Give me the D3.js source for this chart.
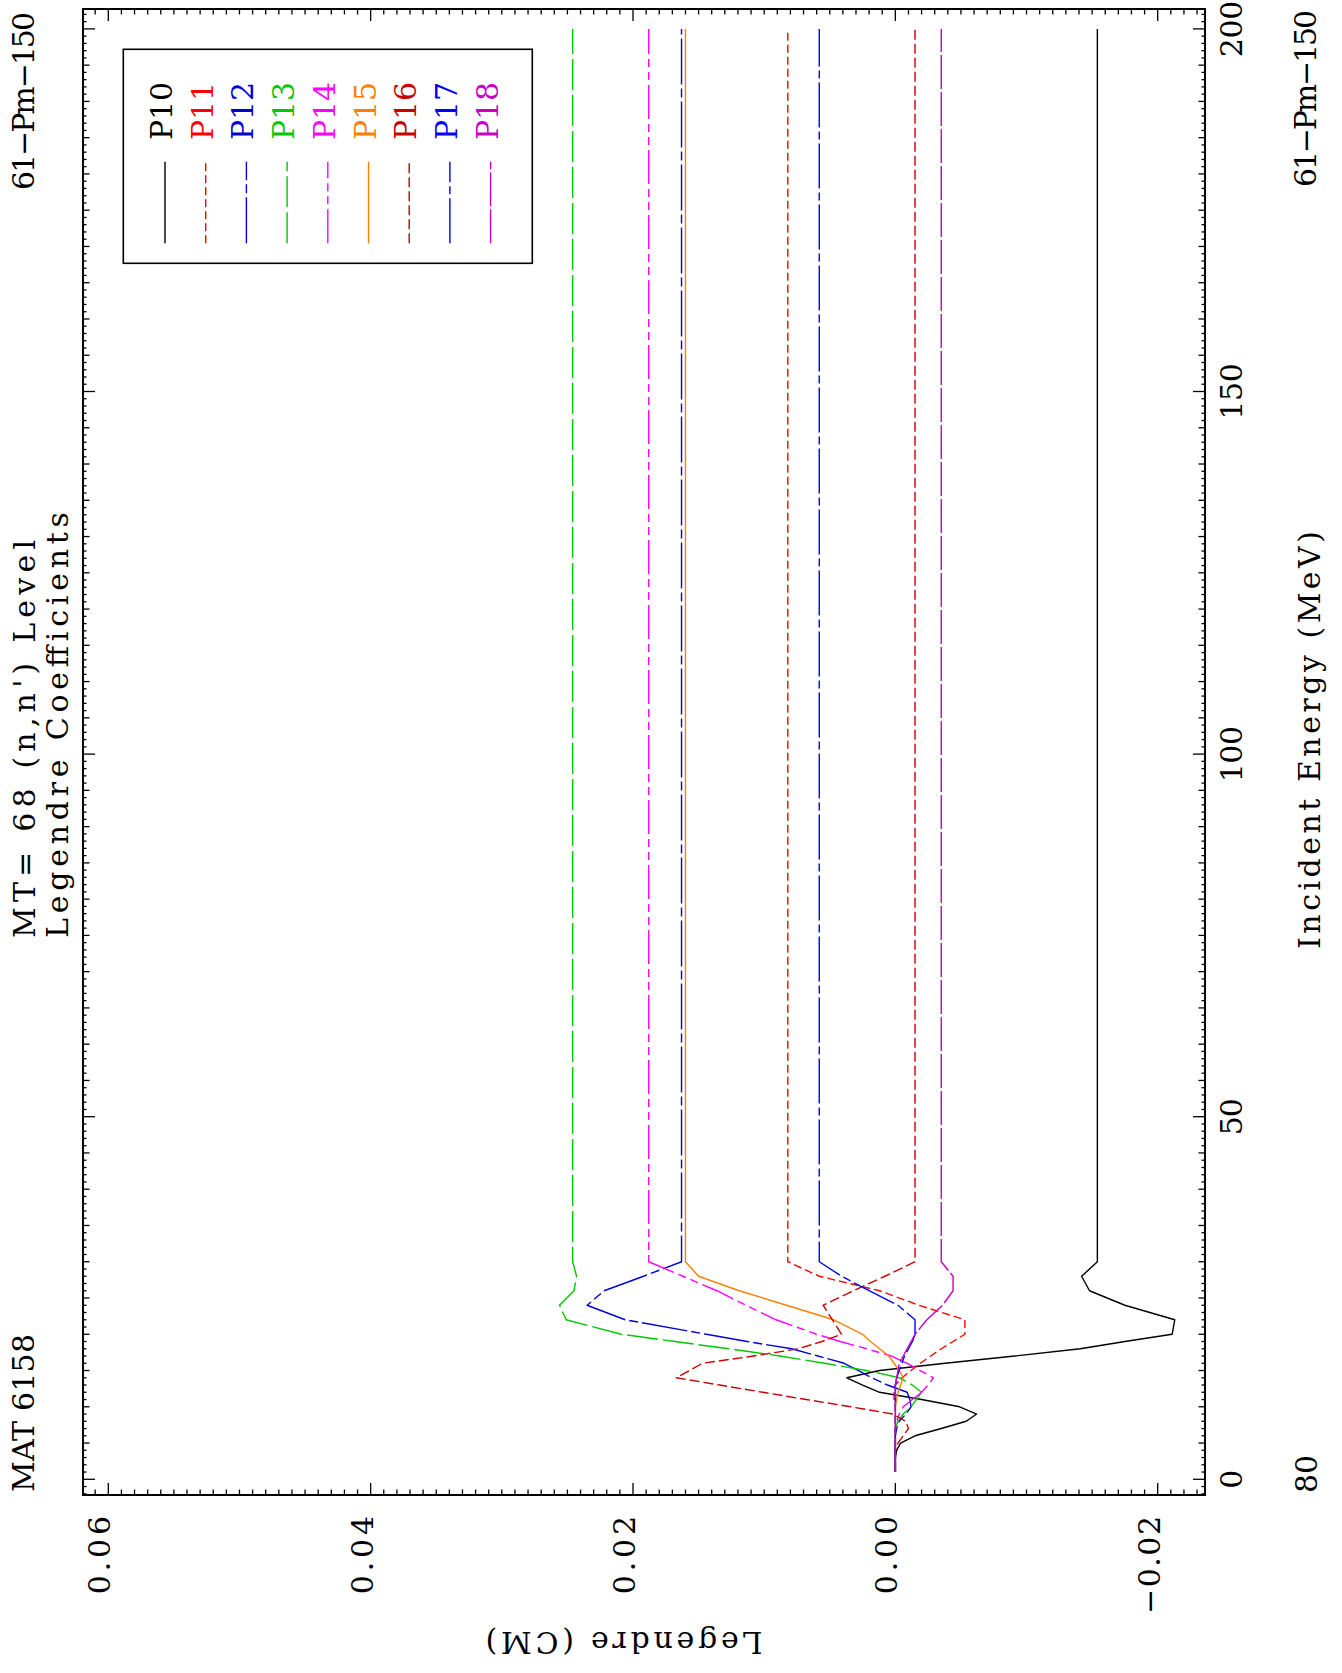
<!DOCTYPE html>
<html>
<head>
<meta charset="utf-8">
<title>MT=68 Legendre Coefficients</title>
<script src="https://cdn.jsdelivr.net/npm/d3@7"></script>
<style>
body{margin:0;background:#fff;}
svg text{font-family:"DejaVu Serif","Liberation Serif",serif;font-size:30px;}
</style>
</head>
<body>
<script>
// incident energies (MeV), shared by all series
var energies = [1,2,3,4,5,6,7,8,9,10,11,12,13,14,15,16,17,18,19,20,22,24,26,28,30,200];

var names = ["P10","P11","P12","P13","P14","P15","P16","P17","P18"];

// Legendre coefficients, one value per energy
var P10 = [0,0,0,-0.0001,-0.0004,-0.0015,-0.0035,-0.0054,-0.0062,-0.0049,-0.0020,0.0012,0.0025,0.0037,0.0012,-0.0038,-0.0091,-0.0141,-0.0175,-0.0211,-0.0213,-0.0175,-0.0148,-0.0142,-0.0154,-0.0154];
var P11 = [0,0,0,0,0,0,0,0,0,0,0.0001,0.0001,0,-0.0005,-0.0012,-0.0019,-0.0027,-0.0035,-0.0044,-0.0053,-0.0053,-0.0018,0.0012,0.0058,0.0082,0.0082];
var P12 = [0,0,0,0,0,0,-0.0001,-0.0003,-0.0008,-0.0012,-0.0011,-0.0009,0.0006,0.0018,0.0028,0.0039,0.0059,0.0079,0.0113,0.0144,0.0206,0.0235,0.0222,0.0192,0.0163,0.0163];
var P13 = [0,0,0,0,0,0,0,-0.0002,-0.0006,-0.0012,-0.0016,-0.0020,-0.0013,-0.0003,0.0022,0.0054,0.0088,0.0127,0.0168,0.0209,0.0251,0.0256,0.0245,0.0243,0.0246,0.0246];
var P14 = [0,0,0,0,0,0,0,-0.0001,-0.0003,-0.0006,-0.0013,-0.0020,-0.0025,-0.0029,-0.0019,-0.0009,0.0003,0.0022,0.0042,0.0060,0.0091,0.0114,0.0136,0.0162,0.0188,0.0188];
var P15 = [0,0,0,0,0,0,0,0,0,0,-0.0001,-0.0002,-0.0004,-0.0006,-0.0003,0.0001,0.0005,0.0012,0.0019,0.0025,0.0047,0.0083,0.0119,0.0150,0.0160,0.0160];
var P16 = [0,0,0,0,-0.0002,-0.0006,-0.0010,-0.0008,0.0002,0.0034,0.0068,0.0101,0.0134,0.0167,0.0157,0.0147,0.0108,0.0074,0.0056,0.0041,0.0048,0.0055,0.0032,0.0008,-0.0015,-0.0015];
var P17 = [0,0,0,0,0,0,0,0,0,0,0,0,0,-0.0001,-0.0003,-0.0005,-0.0007,-0.0010,-0.0013,-0.0015,-0.0015,-0.0002,0.0020,0.0041,0.0058,0.0058];
var P18 = [0,0,0,0,0,0,0,0,0,0,0,0,0,-0.0001,-0.0002,-0.0003,-0.0006,-0.0009,-0.0012,-0.0015,-0.0024,-0.0036,-0.0044,-0.0044,-0.0035,-0.0035];
var seriesValues = [P10,P11,P12,P13,P14,P15,P16,P17,P18];

var energyTicks = [0,50,100,150,200];
var energyLabels = ["0","50","100","150","200"];
var legendreTicks = [-0.02,0,0.02,0.04,0.06];
var legendreLabels = ["\u22120.02","0.00","0.02","0.04","0.06"];

// line styles
var colors = ["#000000","#ff0000","#0000d8","#00c800","#ff00ff","#ff8000","#c80000","#0000ff","#c800c8"];
var dashes = [null,"8,4","46,4,9,4","31,5","34,5,8,5,8,5",null,"10,4","45,4,8,4","34,3"];

var W = 1342, H = 1673;
var svg = d3.select("body").append("svg")
    .attr("width", W)
    .attr("height", H);
svg.append("rect").attr("width", W).attr("height", H).attr("fill", "#fff");

// plot is laid out landscape, then turned a quarter turn counterclockwise
var g = svg.append("g")
    .attr("transform", "translate(0," + H + ") rotate(-90)");

// frame of the plot (landscape coordinates)
var frame = {left:178, right:1664, top:83, bottom:1205};

var xScale = d3.scaleLinear().domain([0,200]).range([193.7,1644.1]);
var yScale = d3.scaleLinear().domain([-0.02,0.06]).range([1157.7,108.3]);

// ticks: 1 MeV minor, 5 MeV medium, 50 MeV major; 0.001 minor, 0.02 major
var tickG = g.append("g").attr("stroke","#000").attr("stroke-width",1.3);
d3.range(-2,203).forEach(function(e){
    var len = e % 50 === 0 ? 12 : (e % 5 === 0 ? 6.5 : 3.5);
    var x = xScale(e);
    tickG.append("line").attr("x1",x).attr("x2",x).attr("y1",frame.bottom).attr("y2",frame.bottom-len);
    tickG.append("line").attr("x1",x).attr("x2",x).attr("y1",frame.top).attr("y2",frame.top+len);
});
d3.range(-23,62).forEach(function(i){
    var len = i % 20 === 0 ? 12 : 5.5;
    var y = yScale(i/1000);
    tickG.append("line").attr("x1",frame.left).attr("x2",frame.left+len).attr("y1",y).attr("y2",y);
    tickG.append("line").attr("x1",frame.right).attr("x2",frame.right-len).attr("y1",y).attr("y2",y);
});

// frame
g.append("rect")
    .attr("x",frame.left).attr("y",frame.top)
    .attr("width",frame.right-frame.left).attr("height",frame.bottom-frame.top)
    .attr("fill","none").attr("stroke","#000").attr("stroke-width",2);

function label(txt, x, y, anchor, len, color){
    var t = g.append("text")
        .attr("x",x).attr("y",y)
        .attr("text-anchor",anchor)
        .attr("fill",color || "#000")
        .text(txt);
    if(len) t.attr("textLength",len).attr("lengthAdjust","spacing");
    return t;
}

// tick labels
energyTicks.forEach(function(t,i){
    var s = energyLabels[i];
    label(s, xScale(t), 1242, "middle", s.length > 1 ? s.length*19.5-2 : null);
});
legendreTicks.forEach(function(t,i){
    var s = legendreLabels[i];
    label(s, 157, yScale(t)+2, "end", s.length*19.8-1);
});

// titles
label("MAT 6158", 181, 34, "start", 158);
label("61\u2212Pm\u2212150", 1661, 34, "end", 178);
label("MT= 68 (n,n') Level", 735, 35, "start", 398);
label("Legendre Coefficients", 735, 68, "start", 426);
label("Incident Energy (MeV)", 724, 1320, "start", 418);
label("80", 180, 1317, "start", 38);
label("61\u2212Pm\u2212150", 1663, 1316, "end", 177);

// y axis title, reads upward in the landscape plot
g.append("text")
    .attr("transform","translate(41,624) rotate(-90)")
    .attr("text-anchor","middle")
    .attr("textLength",277).attr("lengthAdjust","spacing")
    .text("Legendre (CM)");

// curves
var line = d3.line()
    .x(function(d){ return xScale(d[0]); })
    .y(function(d){ return yScale(d[1]); });

seriesValues.forEach(function(vals,k){
    var pts = energies.map(function(e,i){ return [e, vals[i]]; });
    g.append("path")
        .attr("d", line(pts))
        .attr("fill","none")
        .attr("stroke",colors[k])
        .attr("stroke-width",1.4)
        .attr("stroke-linejoin","round")
        .attr("stroke-dasharray",dashes[k]);
});

// legend
g.append("rect")
    .attr("x",1409.7).attr("y",123.3).attr("width",214).attr("height",409)
    .attr("fill","none").attr("stroke","#000").attr("stroke-width",1.6);
names.forEach(function(n,k){
    var y = 165 + 40.7*k;
    g.append("line")
        .attr("x1",1429.7).attr("x2",1511.3).attr("y1",y).attr("y2",y)
        .attr("stroke",colors[k]).attr("stroke-width",1.4)
        .attr("stroke-dasharray",dashes[k]);
    label(n, 1533, y+7, "start", 58, colors[k]);
});
</script>
</body>
</html>
